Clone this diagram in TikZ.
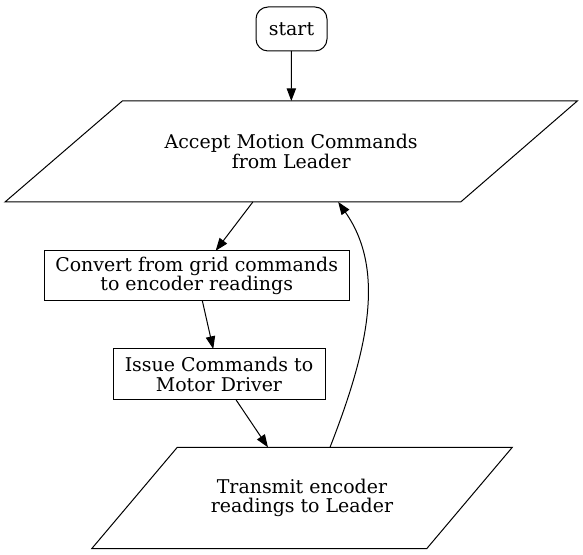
\documentclass[tikz,border=0pt]{standalone}
\usepackage{fontspec}
\setmainfont{DejaVu Serif}
\usetikzlibrary{arrows.meta}
\begin{document}
\begin{tikzpicture}[x=0.75pt,y=-0.75pt, line width=0.75pt,
  font=\fontsize{14.2}{14.5}\selectfont,
  box/.style={draw, rectangle, inner sep=0pt, outer sep=0pt, align=center},
  paratext/.style={rectangle, inner sep=0pt, outer sep=0pt, align=center, minimum width=150pt},
  arr/.style={-{Triangle[length=9.5pt,width=7pt]}}]
\useasboundingbox (0,0) rectangle (583,555);
\node[box, rounded corners=9pt, minimum width=53.25pt, minimum height=33pt] (start) at (291.5,29) {start};
\node[paratext, minimum height=75.75pt] (p1) at (291.2,151.5) {Accept Motion Commands\\from Leader};
\draw (122.3,101) -- (577.3,101) -- (460.7,202) -- (5,202) -- cycle;
\node[box, minimum width=228.75pt, minimum height=37.5pt] (conv) at (196.7,275.8) {Convert from grid commands\\to encoder readings};
\node[box, minimum width=159pt, minimum height=38.25pt] (issue) at (219,374.5) {Issue Commands to\\Motor Driver};
\node[paratext, minimum height=76pt] (tr) at (302,498) {Transmit encoder\\readings to Leader};
\draw (177.3,447.3) -- (512.3,447.3) -- (426.7,548.7) -- (91.7,548.7) -- cycle;
\draw[arr] (start) -- (p1);
\draw[arr] (p1) -- (conv);
\draw[arr] (conv) -- (issue);
\draw[arr] (issue) -- (tr);
\draw[arr] ([xshift=21pt]tr.north) .. controls (368,350) and (386,270) .. ([xshift=35.25pt]p1.south);
\end{tikzpicture}
\end{document}
